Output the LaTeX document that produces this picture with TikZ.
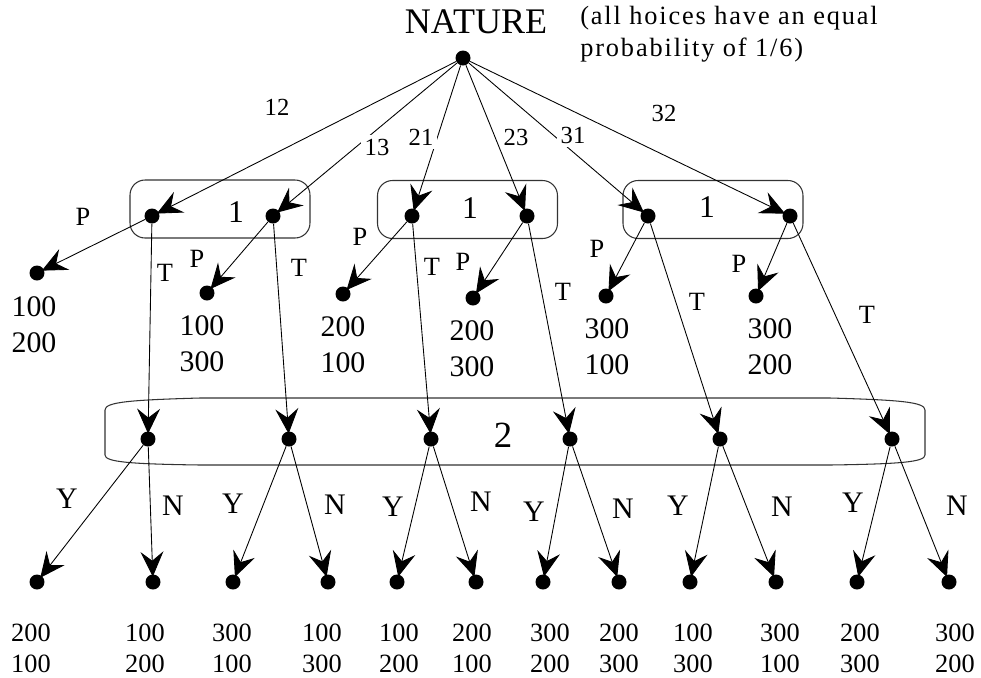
\documentclass[tikz,border=0pt]{standalone}
\usepackage{fontspec}
\setmainfont{Liberation Serif}
\newfontfamily\notefont[LetterSpace=7]{Liberation Serif}
\usetikzlibrary{arrows.meta}

\begin{document}
\begin{tikzpicture}[
	  x=0.02cm, y=-0.02cm,
	  dot/.style={circle, fill=black, inner sep=0pt, minimum size=0.3cm},
	  arrow/.style={line width=0.5pt, shorten >=-0.05cm, -{Stealth[length=0.5cm, width=0.46cm, inset=0.18cm]}},
	  infoset/.style={draw=black!80, line width=0.6pt, rounded corners=0.3cm, minimum width=3.6cm, minimum height=1.16cm},
	  branch/.style={inner sep=0pt, font=\fontsize{14}{16}\selectfont},
	  cut/.style={branch, fill=white, inner sep=2pt},
	  move/.style={inner sep=0pt, font=\fontsize{15}{18}\selectfont},
	  answer/.style={inner sep=0pt, font=\fontsize{17}{20}\selectfont},
	  payoff/.style={inner sep=0pt, align=center, font=\fontsize{17}{20.4}\selectfont},
	  final/.style={inner sep=0pt, align=center, font=\fontsize{15}{17.6}\selectfont},
	  player/.style={inner sep=0pt, font=\fontsize{18}{20}\selectfont}
	]

	\useasboundingbox (0,0) rectangle (981,677);

	\node (naturetxt) [inner sep=0pt, font=\fontsize{20.5}{24}\selectfont] at (476,22) {NATURE};
	\node (note) [inner sep=0pt, anchor=west, align=left, font=\notefont\fontsize{15}{18}\selectfont] at (580,34) {(all hoices have an equal\\probability of 1/6)};
	\node (nature) [dot] at (463,58) {};

	\node (box1) [infoset] at (220,209) {};
	\node (box2) [infoset] at (467.5,209.5) {};
	\node (box3) [infoset] at (713,209.5) {};
	\node (one1) [player] at (236,212) {1};
	\node (one2) [player] at (470,208) {1};
	\node (one3) [player] at (707,207) {1};
	\draw [draw=black!80, line width=0.6pt] (200,398) -- (830,398) .. controls (900,400) and (925,402) .. (925,410) -- (925,455) .. controls (925,462) and (900,464) .. (830,465) -- (200,465) .. controls (130,464) and (105,462) .. (105,455) -- (105,410) .. controls (105,402) and (130,400) .. (200,398) -- cycle;
	\node (two) [player, font=\fontsize{21}{24}\selectfont] at (503,435) {2};

	\node (i12) [dot] at (152,216) {};
	\node (i13) [dot] at (273,216) {};
	\node (i21) [dot] at (412,216) {};
	\node (i23) [dot] at (527,216) {};
	\node (i31) [dot] at (648,216) {};
	\node (i32) [dot] at (790,216) {};

	\node (p12) [dot] at (37,273) {};
	\node (p13) [dot] at (207,293) {};
	\node (p21) [dot] at (343,294) {};
	\node (p23) [dot] at (473,298) {};
	\node (p31) [dot] at (606,296) {};
	\node (p32) [dot] at (756,296) {};

	\node (j12) [dot] at (148,439) {};
	\node (j13) [dot] at (289,439) {};
	\node (j21) [dot] at (431,439) {};
	\node (j23) [dot] at (570,439) {};
	\node (j31) [dot] at (720,439) {};
	\node (j32) [dot] at (892,439) {};

	\node (y12) [dot] at (37,582) {};
	\node (n12) [dot] at (153,582) {};
	\node (y13) [dot] at (233,582) {};
	\node (n13) [dot] at (328,582) {};
	\node (y21) [dot] at (397,582) {};
	\node (n21) [dot] at (476,582) {};
	\node (y23) [dot] at (543,582) {};
	\node (n23) [dot] at (619,582) {};
	\node (y31) [dot] at (690,582) {};
	\node (n31) [dot] at (776,582) {};
	\node (y32) [dot] at (857,582) {};
	\node (n32) [dot] at (949,582) {};

	\draw [arrow] (nature) -- (i12);
	\draw [arrow] (nature) -- (i13);
	\draw [arrow] (nature) -- (i21);
	\draw [arrow] (nature) -- (i23);
	\draw [arrow] (nature) -- (i31);
	\draw [arrow] (nature) -- (i32);

	\draw [arrow] (i12) -- (p12);
	\draw [arrow] (i13) -- (p13);
	\draw [arrow] (i21) -- (p21);
	\draw [arrow] (i23) -- (p23);
	\draw [arrow] (i31) -- (p31);
	\draw [arrow] (i32) -- (p32);

	\draw [arrow] (i12) -- (j12);
	\draw [arrow] (i13) -- (j13);
	\draw [arrow] (i21) -- (j21);
	\draw [arrow] (i23) -- (j23);
	\draw [arrow] (i31) -- (j31);
	\draw [arrow] (i32) -- (j32);

	\draw [arrow] (j12) -- (y12);
	\draw [arrow] (j12) -- (n12);
	\draw [arrow] (j13) -- (y13);
	\draw [arrow] (j13) -- (n13);
	\draw [arrow] (j21) -- (y21);
	\draw [arrow] (j21) -- (n21);
	\draw [arrow] (j23) -- (y23);
	\draw [arrow] (j23) -- (n23);
	\draw [arrow] (j31) -- (y31);
	\draw [arrow] (j31) -- (n31);
	\draw [arrow] (j32) -- (y32);
	\draw [arrow] (j32) -- (n32);

	\node (l12) [branch] at (277,107) {12};
	\node (l13) [cut] at (377,147) {13};
	\node (l21) [cut] at (421,137) {21};
	\node (l23) [branch] at (516,137) {23};
	\node (l31) [cut] at (573,135) {31};
	\node (l32) [branch] at (664,113) {32};

	\node (lp12) [move] at (83,217) {P};
	\node (lp13) [move] at (197,259) {P};
	\node (lp21) [move] at (360,237) {P};
	\node (lp23) [move] at (463,262) {P};
	\node (lp31) [move] at (597,249) {P};
	\node (lp32) [move] at (739,264) {P};

	\node (lt12) [move] at (165,273) {T};
	\node (lt13) [move] at (299,268) {T};
	\node (lt21) [move] at (432,267) {T};
	\node (lt23) [move] at (563,292) {T};
	\node (lt31) [move] at (697,302) {T};
	\node (lt32) [move] at (867,315) {T};

	\node (ly12) [answer] at (67,499) {Y};
	\node (ln12) [answer] at (173,506) {N};
	\node (ly13) [answer] at (233,504) {Y};
	\node (ln13) [answer] at (335,505) {N};
	\node (ly21) [answer] at (393,507) {Y};
	\node (ln21) [answer] at (481,502) {N};
	\node (ly23) [answer] at (534,512) {Y};
	\node (ln23) [answer] at (623,509) {N};
	\node (ly31) [answer] at (678,506) {Y};
	\node (ln31) [answer] at (782,507) {N};
	\node (ly32) [answer] at (853,503) {Y};
	\node (ln32) [answer] at (957,506) {N};

	\node (v12) [payoff] at (34,325) {100\\200};
	\node (v13) [payoff] at (202,343.5) {100\\300};
	\node (v21) [payoff] at (343,345) {200\\100};
	\node (v23) [payoff] at (472,348.5) {200\\300};
	\node (v31) [payoff] at (607,347) {300\\100};
	\node (v32) [payoff] at (770,347) {300\\200};

	\node (w12y) [final] at (31,648) {200\\100};
	\node (w12n) [final] at (145,648) {100\\200};
	\node (w13y) [final] at (232,648) {300\\100};
	\node (w13n) [final] at (322,648) {100\\300};
	\node (w21y) [final] at (399,648) {100\\200};
	\node (w21n) [final] at (472,648) {200\\100};
	\node (w23y) [final] at (550,648) {300\\200};
	\node (w23n) [final] at (619,648) {200\\300};
	\node (w31y) [final] at (693,648) {100\\300};
	\node (w31n) [final] at (780,648) {300\\100};
	\node (w32y) [final] at (860,648) {200\\300};
	\node (w32n) [final] at (955,648) {300\\200};

\end{tikzpicture}
\end{document}
